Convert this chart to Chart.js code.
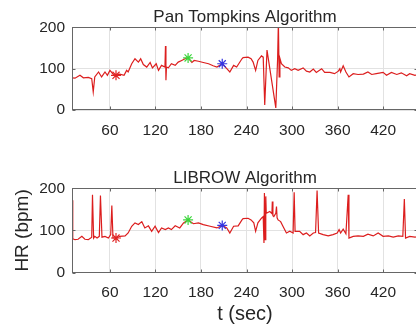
<!DOCTYPE html>
<html>
<head>
<meta charset="utf-8">
<script src="https://cdn.jsdelivr.net/npm/chart.js@4/dist/chart.umd.min.js"></script>
<style>
  html, body { margin: 0; padding: 0; background: #fff; overflow: hidden; width: 416px; height: 327px; }
  .box { position: absolute; left: 0; width: 430px; }
</style>
</head>
<body>
<div class="box" style="top:0;height:150px"><canvas id="chartTop" width="430" height="150"></canvas></div>
<div class="box" style="top:160px;height:167px"><canvas id="chartBot" width="430" height="167"></canvas></div>
<script>
// tick labels
const xTicks = [60, 120, 180, 240, 300, 360, 420];
const yTicks = [0, 100, 200];

// Pan Tompkins: time (s) and HR (bpm)
const tTop = [10, 14, 20.5, 25, 31.5, 36, 38, 40, 45, 49, 53.5, 56.6, 60, 64.5, 68, 73, 78.6, 82, 84, 88.7,
  93, 97.5, 100.5, 104, 108.5, 113, 116, 121, 124, 128, 132.5, 133.2, 133.8, 134.5, 137, 141, 146, 150, 154.6, 159,
  163, 168, 171, 176.6, 183, 190, 196, 201, 208, 214, 218, 223, 227, 234, 235.5, 242, 246, 248.7, 252, 255,
  259.7, 262, 264, 267, 278.6, 281, 282, 283, 284, 286, 290.5, 295, 299, 303.6, 308, 314.6, 319, 323.4, 328, 332,
  339, 343, 350, 356, 361, 363, 364, 367.4, 371, 375, 380.6, 387, 394, 400, 405, 411, 420, 424.5, 431, 438,
  444, 451, 455, 462, 466];
const hrTop = [78, 77, 84, 78, 79, 76, 44, 80, 92, 80, 92, 84, 96, 86, 84, 87, 84, 96, 92, 112,
  124, 116, 124, 110, 104, 115, 102, 112, 96, 108, 104, 155, 72, 104, 102, 112, 108, 116, 120, 124,
  126, 115, 120, 118, 115, 112, 107, 104, 112, 100, 92, 108, 104, 124, 127, 128, 124, 116, 96, 120,
  131, 128, 12, 145, 5, 125, 215, 80, 125, 112, 104, 102, 96, 100, 96, 102, 94, 92, 99, 91,
  100, 91, 91, 88, 94, 100, 92, 107, 92, 80, 88, 86, 87, 92, 86, 88, 91, 84, 91, 86,
  90, 83, 88, 84, 86];

// LIBROW: time (s) and HR (bpm)
const tBot = [10, 11, 14, 18, 23, 27, 31.5, 34.6, 36, 37, 38.5, 40, 43, 46, 47.5, 49.5, 53.5, 58, 61, 62.5,
  64, 69, 73, 80, 84, 88.7, 93, 97.5, 102, 106, 110.7, 115, 119.5, 124, 128, 133, 137, 141, 146, 152,
  157, 163, 170, 176.6, 183, 192, 201, 208, 214, 218, 223, 229, 234, 235.5, 242, 246, 249.6, 252, 255, 259.7,
  262, 263, 263.6, 264.5, 265.4, 266, 270.7, 273.5, 274, 274.8, 276, 278.6, 279.5, 280.3, 281.6, 285, 288, 292.6, 297, 301.4,
  302.8, 304, 310, 314.6, 319, 323.4, 328, 331, 333, 335, 341, 347.6, 354, 359.5, 362, 364, 367.4, 371, 374, 375,
  380.6, 387, 394, 400, 407, 413.5, 420, 427, 433.3, 440, 446, 448, 449.6, 455, 462, 466];
const hrBot = [172, 80, 78, 79, 86, 79, 78, 82, 84, 185, 82, 86, 82, 86, 183, 84, 86, 82, 90, 159,
  82, 82, 86, 87, 94, 110, 118, 114, 121, 106, 111, 98, 110, 95, 106, 102, 106, 102, 111, 106,
  118, 125, 116, 118, 114, 110, 106, 112, 106, 94, 110, 111, 125, 128, 129, 125, 118, 98, 118, 129,
  133, 70, 189, 78, 181, 141, 145, 140, 169, 135, 133, 141, 157, 130, 125, 121, 110, 94, 98, 94,
  191, 98, 98, 90, 94, 87, 94, 95, 195, 94, 90, 87, 90, 94, 102, 94, 103, 92, 185, 82,
  86, 87, 86, 91, 87, 94, 86, 87, 84, 87, 86, 175, 82, 86, 84, 85];

// star markers
const markT = [68, 163, 208];
const markHrTop = [84, 126, 112];
const markHrBot = [82, 125, 112];
const markColors = ['#e02424', '#3dd63d', '#3434e0'];

const lineRed = '#dc1e1e';
const axisColor = '#666666';
const gridColor = '#e2e2e2';
const textColor = '#262626';
const fontFamily = '"Liberation Sans", Arial, sans-serif';

const boxPlugin = {
  id: 'box',
  afterDraw(chart) {
    const { ctx, chartArea: a, scales: { x, y } } = chart;
    ctx.save();
    ctx.strokeStyle = axisColor;
    ctx.lineWidth = 1;
    const L = Math.round(a.left) + 0.5, R = Math.round(a.right) - 0.5;
    const T = Math.round(a.top) + 0.5, B = Math.round(a.bottom) - 0.5;
    ctx.strokeRect(L, T, R - L, B - T);
    ctx.beginPath();
    xTicks.forEach(v => {
      const px = Math.round(x.getPixelForValue(v)) + 0.5;
      ctx.moveTo(px, B); ctx.lineTo(px, B - 3);
      ctx.moveTo(px, T); ctx.lineTo(px, T + 3);
    });
    yTicks.forEach(v => {
      const py = Math.round(y.getPixelForValue(v)) + 0.5;
      ctx.moveTo(L, py); ctx.lineTo(L + 3, py);
      ctx.moveTo(R, py); ctx.lineTo(R - 3, py);
    });
    ctx.stroke();
    ctx.restore();
  }
};

function makeChart(id, title, t, hr, markHr, xHeight, titleTop, withLabels) {
  const markers = markT.map((v, i) => ({
    type: 'scatter',
    data: [{ x: v, y: markHr[i] }],
    pointStyle: 'star',
    pointRadius: 5,
    borderColor: markColors[i],
    backgroundColor: markColors[i],
    borderWidth: 1.2
  }));
  return new Chart(document.getElementById(id), {
    type: 'line',
    data: {
      datasets: [
        ...markers,
        {
          data: t.map((v, i) => ({ x: v, y: hr[i] })),
          borderColor: lineRed,
          borderWidth: 1.2,
          pointRadius: 0,
          tension: 0
        }
      ]
    },
    options: {
      responsive: false,
      animation: false,
      layout: { padding: { left: 0, right: 12, top: 0, bottom: 0 } },
      plugins: {
        legend: { display: false },
        tooltip: { enabled: false },
        title: {
          display: true,
          text: title,
          fullSize: false,
          color: textColor,
          font: { family: fontFamily, size: 17, weight: 'normal' },
          padding: { top: titleTop, bottom: 0 }
        }
      },
      scales: {
        x: {
          type: 'linear',
          min: 10,
          max: 466,
          afterBuildTicks: s => { s.ticks = xTicks.map(v => ({ value: v })); },
          afterFit: s => { s.height = xHeight; },
          grid: { color: gridColor, drawTicks: false },
          border: { display: false },
          ticks: { color: textColor, font: { family: fontFamily, size: 15.5 }, padding: 11, maxRotation: 0, autoSkip: false },
          title: {
            display: withLabels,
            text: 't (sec)',
            color: textColor,
            font: { family: fontFamily, size: 20 },
            padding: { top: 0, bottom: 1 }
          }
        },
        y: {
          min: 0,
          max: 200,
          afterBuildTicks: s => { s.ticks = yTicks.map(v => ({ value: v })); },
          afterFit: s => { s.width = 72; },
          grid: { color: gridColor, drawTicks: false },
          border: { display: false },
          ticks: { color: textColor, font: { family: fontFamily, size: 15.5 }, padding: 7 },
          title: {
            display: withLabels,
            text: 'HR (bpm)',
            color: textColor,
            font: { family: fontFamily, size: 19 },
            padding: { top: 11, bottom: 0 }
          }
        }
      }
    },
    plugins: [boxPlugin]
  });
}

makeChart('chartTop', 'Pan Tompkins Algorithm', tTop, hrTop, markHrTop, 40, 7, false);
makeChart('chartBot', 'LIBROW Algorithm', tBot, hrBot, markHrBot, 54.5, 8, true);
</script>
</body>
</html>
